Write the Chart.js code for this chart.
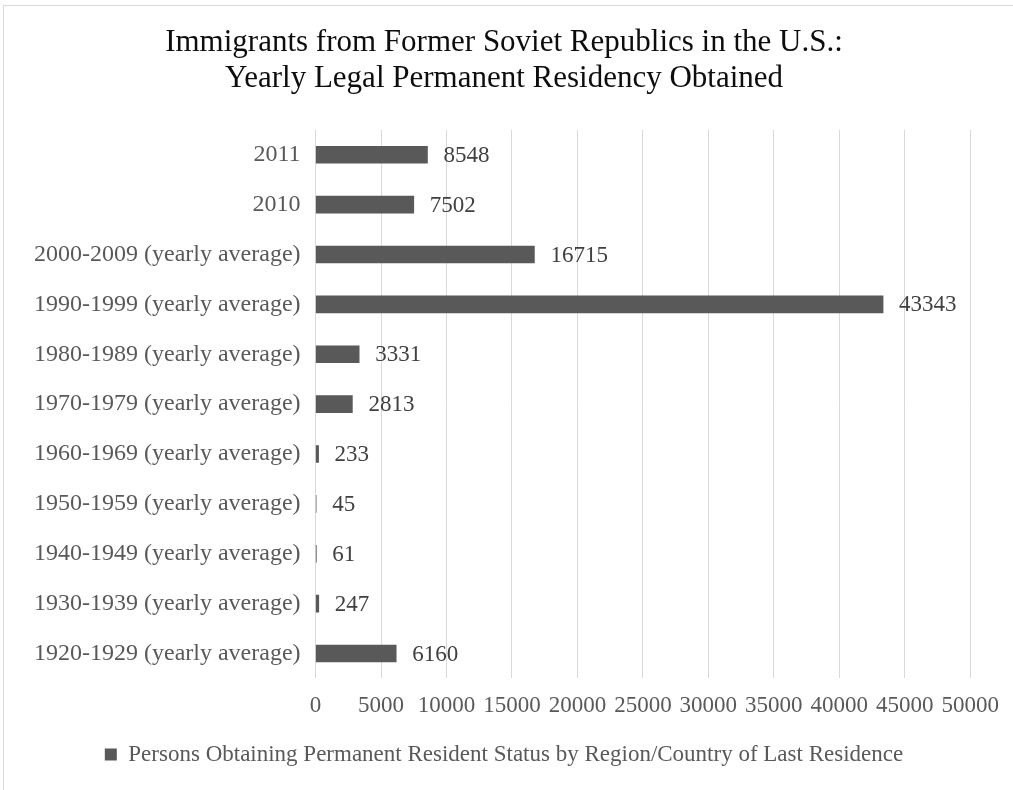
<!DOCTYPE html>
<html lang="en">
<head>
    <meta charset="UTF-8">
    <title>Immigrants from Former Soviet Republics</title>
    <script src="https://cdn.jsdelivr.net/npm/chart.js"></script>
    <style>
        body { margin: 0; background: #fff; }
    </style>
</head>
<body>
    <canvas id="myChart" width="1013" height="790"></canvas>

    <script>
        // data
        var periods = [
            '2011',
            '2010',
            '2000-2009 (yearly average)',
            '1990-1999 (yearly average)',
            '1980-1989 (yearly average)',
            '1970-1979 (yearly average)',
            '1960-1969 (yearly average)',
            '1950-1959 (yearly average)',
            '1940-1949 (yearly average)',
            '1930-1939 (yearly average)',
            '1920-1929 (yearly average)'
        ];
        var persons = [8548, 7502, 16715, 43343, 3331, 2813, 233, 45, 61, 247, 6160];
        var seriesName = 'Persons Obtaining Permanent Resident Status by Region/Country of Last Residence';
        var titleLines = ['Immigrants from Former Soviet Republics in the U.S.:', 'Yearly Legal Permanent Residency Obtained'];

        var serif = '"Liberation Serif", "Times New Roman", serif';

        // white background + the light frame of the chart box
        var framePlugin = {
            id: 'frame',
            beforeDraw: function (chart) {
                var c = chart.ctx;
                c.save();
                c.fillStyle = '#fff';
                c.fillRect(0, 0, chart.width, chart.height);
                c.strokeStyle = '#d9d9d9';
                c.lineWidth = 1;
                c.strokeRect(3.5, 5.5, chart.width + 20, chart.height + 20);
                c.restore();
            }
        };

        // value printed after the end of each bar
        var valueLabels = {
            id: 'valueLabels',
            afterDatasetsDraw: function (chart) {
                var c = chart.ctx;
                var meta = chart.getDatasetMeta(0);
                c.save();
                c.font = '23px ' + serif;
                c.fillStyle = '#404040';
                c.textAlign = 'left';
                c.textBaseline = 'middle';
                meta.data.forEach(function (bar, i) {
                    c.fillText(String(persons[i]), bar.x + 16, bar.y + 1);
                });
                c.restore();
            }
        };

        var ctx = document.getElementById('myChart').getContext('2d');
        var myChart = new Chart(ctx, {
            type: 'bar',
            data: {
                labels: periods,
                datasets: [{
                    label: seriesName,
                    data: persons,
                    backgroundColor: '#595959',
                    borderColor: '#595959',
                    borderWidth: 0,
                    barThickness: 17
                }]
            },
            options: {
                indexAxis: 'y',
                responsive: false,
                animation: false,
                layout: { padding: { left: 19, right: 24, top: 24, bottom: 14 } },
                scales: {
                    x: {
                        min: 0,
                        max: 50000,
                        ticks: {
                            stepSize: 5000,
                            color: '#595959',
                            font: { family: serif, size: 23 },
                            padding: 14,
                            maxRotation: 0,
                            autoSkip: false,
                            callback: function (v) { return String(v); }
                        },
                        grid: { color: '#d9d9d9', lineWidth: 1, drawTicks: false },
                        border: { display: false }
                    },
                    y: {
                        ticks: {
                            color: '#595959',
                            font: { family: serif, size: 24 },
                            padding: 15
                        },
                        grid: { display: false, drawTicks: false },
                        border: { display: false }
                    }
                },
                plugins: {
                    title: {
                        display: true,
                        text: titleLines,
                        color: '#0d0d0d',
                        font: { family: serif, size: 31, weight: 'normal', lineHeight: 1.19 },
                        padding: { top: 0, bottom: 32 }
                    },
                    legend: {
                        position: 'bottom',
                        labels: {
                            color: '#595959',
                            font: { family: serif, size: 23 },
                            boxWidth: 12,
                            boxHeight: 12,
                            padding: 9
                        }
                    },
                    tooltip: { enabled: false }
                }
            },
            plugins: [framePlugin, valueLabels]
        });
    </script>
</body>
</html>
